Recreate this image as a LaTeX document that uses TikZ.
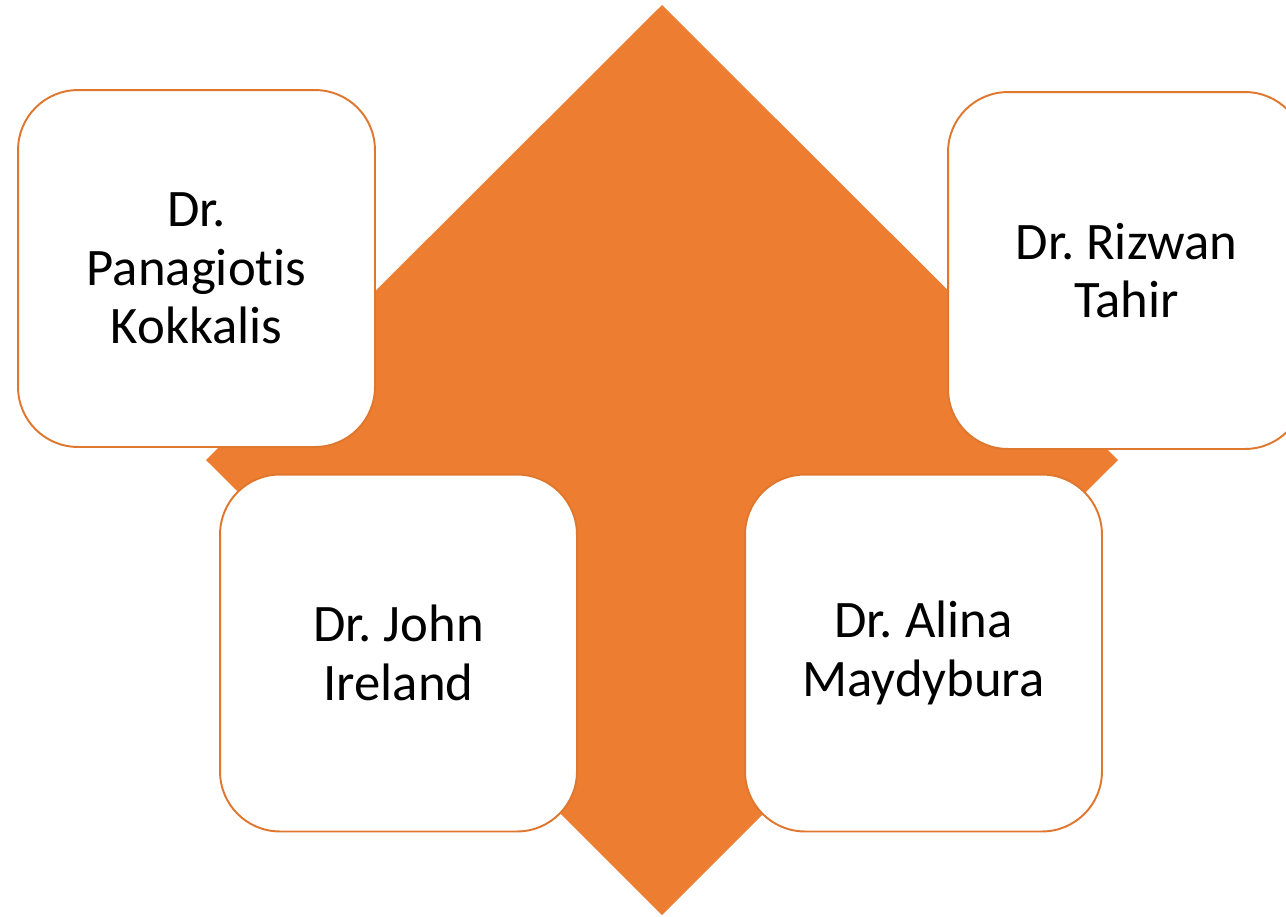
\documentclass[tikz,border=0pt]{standalone}
\usepackage{fontspec}
\setmainfont{Carlito}[Ligatures={NoCommon}]
\usepackage{tikz}
\usetikzlibrary{positioning,shapes}
\usepackage{xcolor}
\definecolor{accent}{HTML}{ED7D31}
\definecolor{accentline}{HTML}{E0772E}
\frenchspacing

\begin{document}
\begin{tikzpicture}[
    x=0.02cm, y=-0.02cm,
    box/.style={draw=accentline, line width=1.1pt, fill=white, minimum width=7.14cm, minimum height=7.14cm, align=center, rounded corners=1.2cm, font=\fontsize{30}{33.3}\selectfont},
    arrowshape/.style={fill=accent, draw=none}
  ]
  \useasboundingbox (0,0) rectangle (1286,917);

  % Background diamond
  \coordinate (top) at (662,5);
  \coordinate (right) at (1118,460);
  \coordinate (bottom) at (662,915);
  \coordinate (left) at (206,460);
  \fill[arrowshape] (top) -- (right) -- (bottom) -- (left) -- cycle;

  % Names
  \begin{scope}
    \clip (0,0) rectangle (1286,917);
    \node[box] (panagiotis) at (196.5,268.5) {Dr.\\Panagiotis\\Kokkalis};
    \node[box] (rizwan) at (1126.5,270.5) {Dr. Rizwan\\Tahir};
    \node[box] (john) at (398.5,653) {Dr. John\\Ireland};
    \node[box] (alina) at (923.5,653) {Dr. Alina\\Maydybura};
  \end{scope}

\end{tikzpicture}
\end{document}
